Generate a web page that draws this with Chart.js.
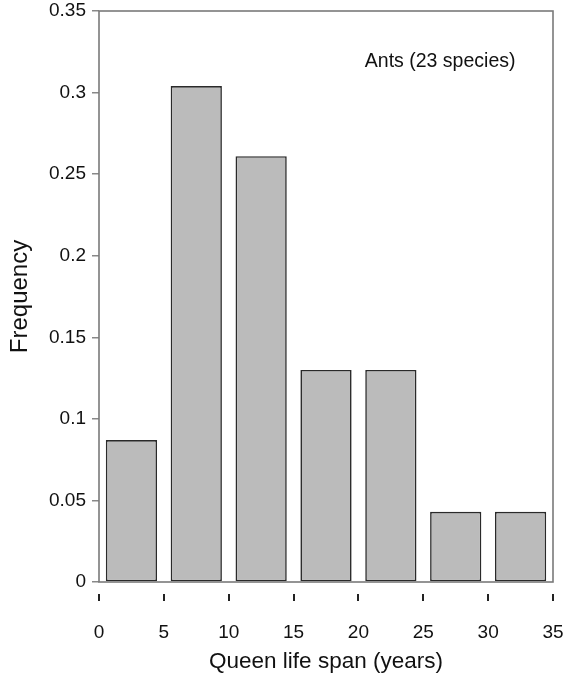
<!DOCTYPE html>
<html>
<head>
<meta charset="utf-8">
<script src="https://cdn.jsdelivr.net/npm/chart.js@4.4.1/dist/chart.umd.min.js"></script>
<style>
  html, body { margin: 0; padding: 0; background: #ffffff; }
  canvas { display: block; }
</style>
</head>
<body>
<canvas id="c" width="569" height="675"></canvas>
<script>
// ---- data ----
const binStarts = [0, 5, 10, 15, 20, 25, 30];
const binWidth = 5;
const frequency = [0.087, 0.304, 0.261, 0.130, 0.130, 0.043, 0.043];
const xTickValues = [0, 5, 10, 15, 20, 25, 30, 35];
const yTickStep = 0.05;
const yMax = 0.35;
const xTitle = 'Queen life span (years)';
const yTitle = 'Frequency';
const annotationText = 'Ants (23 species)';
const annotationPos = { x: 26.3, y: 0.319 };

const FONT = "'Liberation Sans', Arial, Helvetica, sans-serif";

const points = binStarts.map((s, i) => ({ x: s + binWidth / 2, y: frequency[i] }));

const framePlugin = {
  id: 'frame',
  afterDatasetsDraw(chart) {
    const { ctx, chartArea: a, scales } = chart;
    ctx.save();
    // frame
    ctx.strokeStyle = '#7a7a7a';
    ctx.lineWidth = 1.6;
    ctx.strokeRect(a.left, a.top, a.right - a.left, a.bottom - a.top);
    // detached x tick marks
    ctx.strokeStyle = '#222';
    ctx.lineWidth = 2;
    xTickValues.forEach(v => {
      const px = Math.round(scales.x.getPixelForValue(v));
      ctx.beginPath();
      ctx.moveTo(px, a.bottom + 12);
      ctx.lineTo(px, a.bottom + 19);
      ctx.stroke();
    });
    // annotation
    ctx.fillStyle = '#111';
    ctx.font = '19.5px ' + FONT;
    ctx.textAlign = 'center';
    ctx.textBaseline = 'middle';
    ctx.fillText(annotationText, scales.x.getPixelForValue(annotationPos.x), scales.y.getPixelForValue(annotationPos.y));
    ctx.restore();
  }
};

new Chart(document.getElementById('c'), {
  type: 'bar',
  data: {
    datasets: [{
      data: points,
      backgroundColor: '#bbbbbb',
      borderColor: '#2a2a2a',
      borderWidth: 1.6,
      borderSkipped: false,
      categoryPercentage: 1,
      barPercentage: 0.79
    }]
  },
  options: {
    responsive: false,
    animation: false,
    layout: { padding: { top: 11, right: 16, left: 0, bottom: 0 } },
    plugins: { legend: { display: false }, tooltip: { enabled: false } },
    scales: {
      x: {
        type: 'linear',
        offset: false,
        min: 0,
        max: 35,
        afterBuildTicks(scale) { scale.ticks = xTickValues.map(v => ({ value: v })); },
        afterFit(scale) { scale.height = 93; scale.paddingLeft = 0; scale.paddingRight = 0; },
        grid: { display: false },
        border: { display: false },
        ticks: { color: '#111', font: { family: FONT, size: 19 }, padding: 31, maxRotation: 0, autoSkip: false },
        title: { display: true, text: xTitle, color: '#111', font: { family: FONT, size: 22.5 }, padding: { top: 4, bottom: 0 } }
      },
      y: {
        min: 0,
        max: yMax,
        afterFit(scale) { scale.width = 99; scale.paddingTop = 0; scale.paddingBottom = 0; },
        grid: { drawOnChartArea: false, drawTicks: true, tickLength: 7, color: '#888', lineWidth: 1.5 },
        border: { display: false },
        ticks: {
          stepSize: yTickStep, color: '#111', font: { family: FONT, size: 19 }, padding: 6,
          callback: v => String(parseFloat(Number(v).toFixed(2)))
        },
        title: { display: true, text: yTitle, color: '#111', font: { family: FONT, size: 24 }, padding: { top: 6, bottom: 0 } }
      }
    }
  },
  plugins: [framePlugin]
});
</script>
</body>
</html>
